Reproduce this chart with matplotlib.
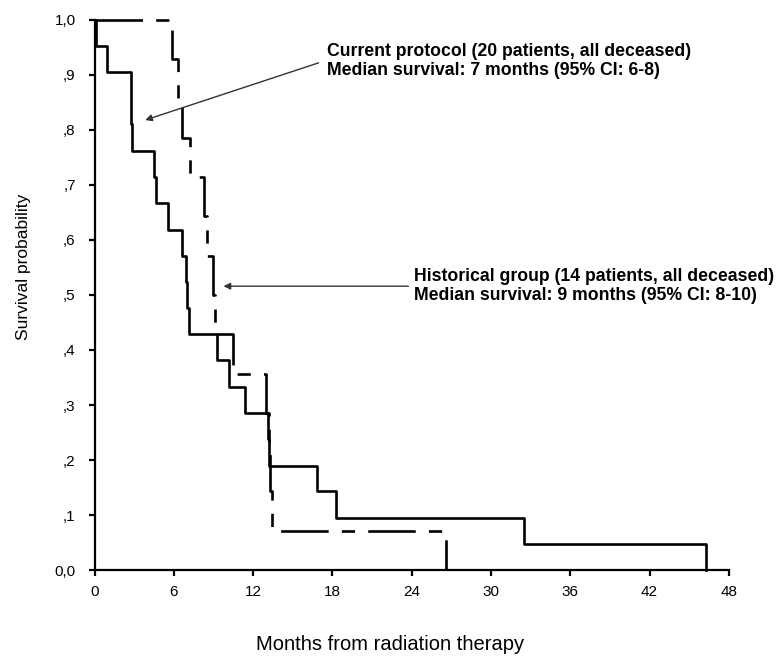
import matplotlib
matplotlib.use('Agg')
import matplotlib.pyplot as plt

# current protocol (solid) - step times in months and survival after each step
current_months = [0, 0.1, 0.92, 2.74, 2.86, 4.51, 4.66, 5.59, 6.61, 6.93, 7.03,
                  7.18, 9.26, 10.19, 11.35, 13.12, 13.24, 16.83, 18.3, 32.48, 46.3]
current_surv = [1.0, .952, .905, .810, .762, .714, .667, .619, .571, .524, .476,
                .429, .381, .333, .286, .238, .190, .143, .095, .048, 0.0]

# historical group (dashed)
hist_months = [0, 5.85, 6.28, 6.6, 7.23, 8.3, 8.5, 9.0, 9.13, 10.47, 13.0,
               13.24, 13.3, 13.42, 26.6]
hist_surv = [1.0, .929, .857, .786, .714, .643, .571, .5, .429, .357, .286,
             .214, .143, .071, 0.0]

x_ticks = [0, 6, 12, 18, 24, 30, 36, 42, 48]
y_ticks = [0.0, 0.1, 0.2, 0.3, 0.4, 0.5, 0.6, 0.7, 0.8, 0.9, 1.0]
y_labels = ['0,0', ',1', ',2', ',3', ',4', ',5', ',6', ',7', ',8', ',9', '1,0']

plt.rcParams['font.family'] = ['Liberation Sans', 'DejaVu Sans']

fig = plt.figure(figsize=(7.78, 6.57), dpi=100)
ax = fig.add_axes([0.1215, 0.1324, 0.8153, 0.8372])

ax.step(current_months, current_surv, where='post', color='black',
        linewidth=1.9, clip_on=False)
ax.step(hist_months, hist_surv, where='post', color='black',
        linewidth=1.9, dashes=(18, 5, 5, 5), clip_on=False)

ax.set_xlim(0, 48)
ax.set_ylim(0, 1.0)
ax.set_xticks(x_ticks)
ax.set_xticklabels([str(t) for t in x_ticks])
ax.set_yticks(y_ticks)
ax.set_yticklabels(y_labels)

for side in ['top', 'right']:
    ax.spines[side].set_visible(False)
for side in ['left', 'bottom']:
    ax.spines[side].set_linewidth(1.6)
ax.tick_params(axis='both', direction='out', length=4.5, width=1.6,
               labelsize=11, colors='black')
ax.tick_params(axis='y', pad=9)
ax.tick_params(axis='x', pad=6)

ax.set_xlabel('Months from radiation therapy', fontsize=14.5)
ax.set_ylabel('Survival probability', fontsize=12.5)
ax.xaxis.set_label_coords(0.466, -0.118)
ax.yaxis.set_label_coords(-0.100, 0.551)

arrow = dict(arrowstyle='-|>', color='#333333', lw=1.0,
             mutation_scale=10, shrinkA=0, shrinkB=0)

ax.text(17.6, 0.925,
        'Current protocol (20 patients, all deceased)\n'
        'Median survival: 7 months (95% CI: 6-8)',
        ha='left', va='center', fontsize=12.7, fontweight='bold',
        linespacing=1.15)
ax.annotate('', xy=(3.83, 0.818), xytext=(16.95, 0.922), arrowprops=arrow)

ax.text(24.2, 0.516,
        'Historical group (14 patients, all deceased)\n'
        'Median survival: 9 months (95% CI: 8-10)',
        ha='left', va='center', fontsize=12.7, fontweight='bold',
        linespacing=1.15)
ax.annotate('', xy=(9.76, 0.516), xytext=(23.75, 0.516), arrowprops=arrow)

fig.savefig('out.png', dpi=100)
